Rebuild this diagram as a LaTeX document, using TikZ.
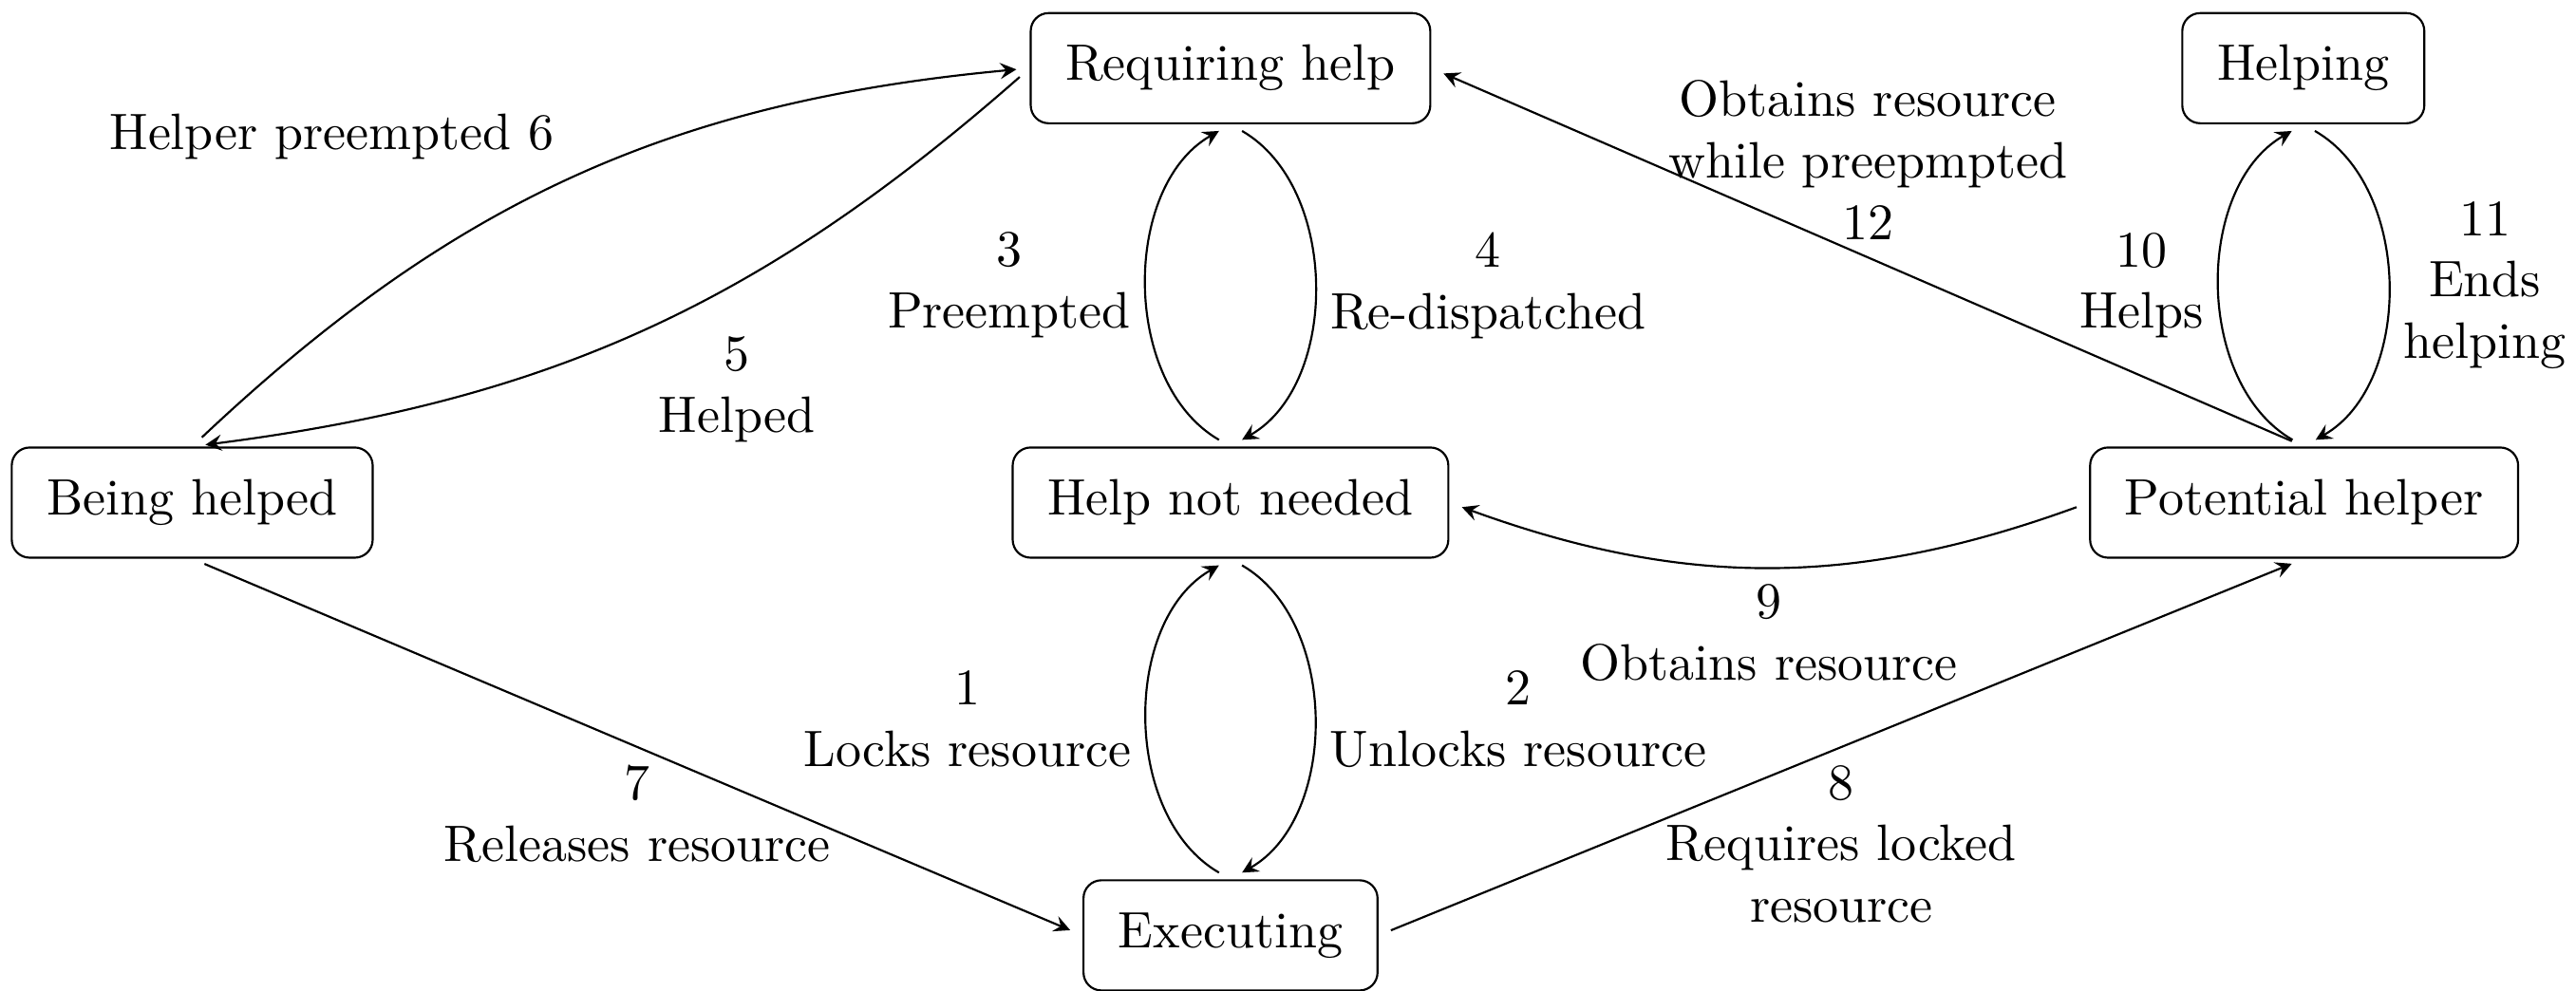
\documentclass[tikz,border=0pt]{standalone}
\usetikzlibrary{arrows}
\begin{document}
\begin{tikzpicture}[x=0.3205pt, y=-0.3205pt,
  state/.style={draw, rounded corners=3.5pt, inner xsep=6.8pt, inner ysep=0pt, minimum height=21.5pt},
  conn/.style={->, >=stealth, shorten >=2.6pt, shorten <=2.6pt},
  lbl/.style={align=center}]
\useasboundingbox (0,0) rectangle (1568,603);
\node[state] (req) at (749,41.5) {Requiring help};
\node[state] (helping) at (1402,41.5) {Helping};
\node[state] (being) at (117,306) {Being helped};
\node[state] (hnn) at (749,306) {Help not needed};
\node[state] (pot) at (1402.5,306) {Potential helper};
\node[state] (exec) at (749,569.5) {Executing};

\draw[conn] (exec.north) to[bend left=60] node[lbl, left] {1\\Locks resource} (hnn.south);
\draw[conn] (hnn.south) to[bend left=60] node[lbl, right] {2\\Unlocks resource} (exec.north);
\draw[conn] (hnn.north) to[bend left=60] node[lbl, left] {3\\Preempted} (req.south);
\draw[conn] (req.south) to[bend left=60] node[lbl, right] {4\\Re-dispatched} (hnn.north);
\draw[conn] (req.west) to[bend left=17] node[lbl, below right, yshift=2pt, xshift=-0.5pt] {5\\Helped} (being.north);
\draw[conn] (being.north) to[bend left=19] node[lbl, above left, xshift=-0.5pt] {Helper preempted 6} (req.west);
\draw[conn] (being.south) -- node[lbl, below] {7\\Releases resource} (exec.west);
\draw[conn] (exec.east) -- node[lbl, below] {8\\Requires locked\\resource} (pot.south);
\draw[conn] (pot.west) to[bend left=20] node[lbl, below] {9\\Obtains resource} (hnn.east);
\draw[conn] (pot.north) to[bend left=60] node[lbl, left] {10\\Helps} (helping.south);
\draw[conn] (helping.south) to[bend left=60] node[lbl, right] {11\\Ends\\helping} (pot.north);
\draw[conn] (pot.north) -- node[lbl, above] {Obtains resource\\while preepmpted\\12} (req.east);
\end{tikzpicture}
\end{document}
